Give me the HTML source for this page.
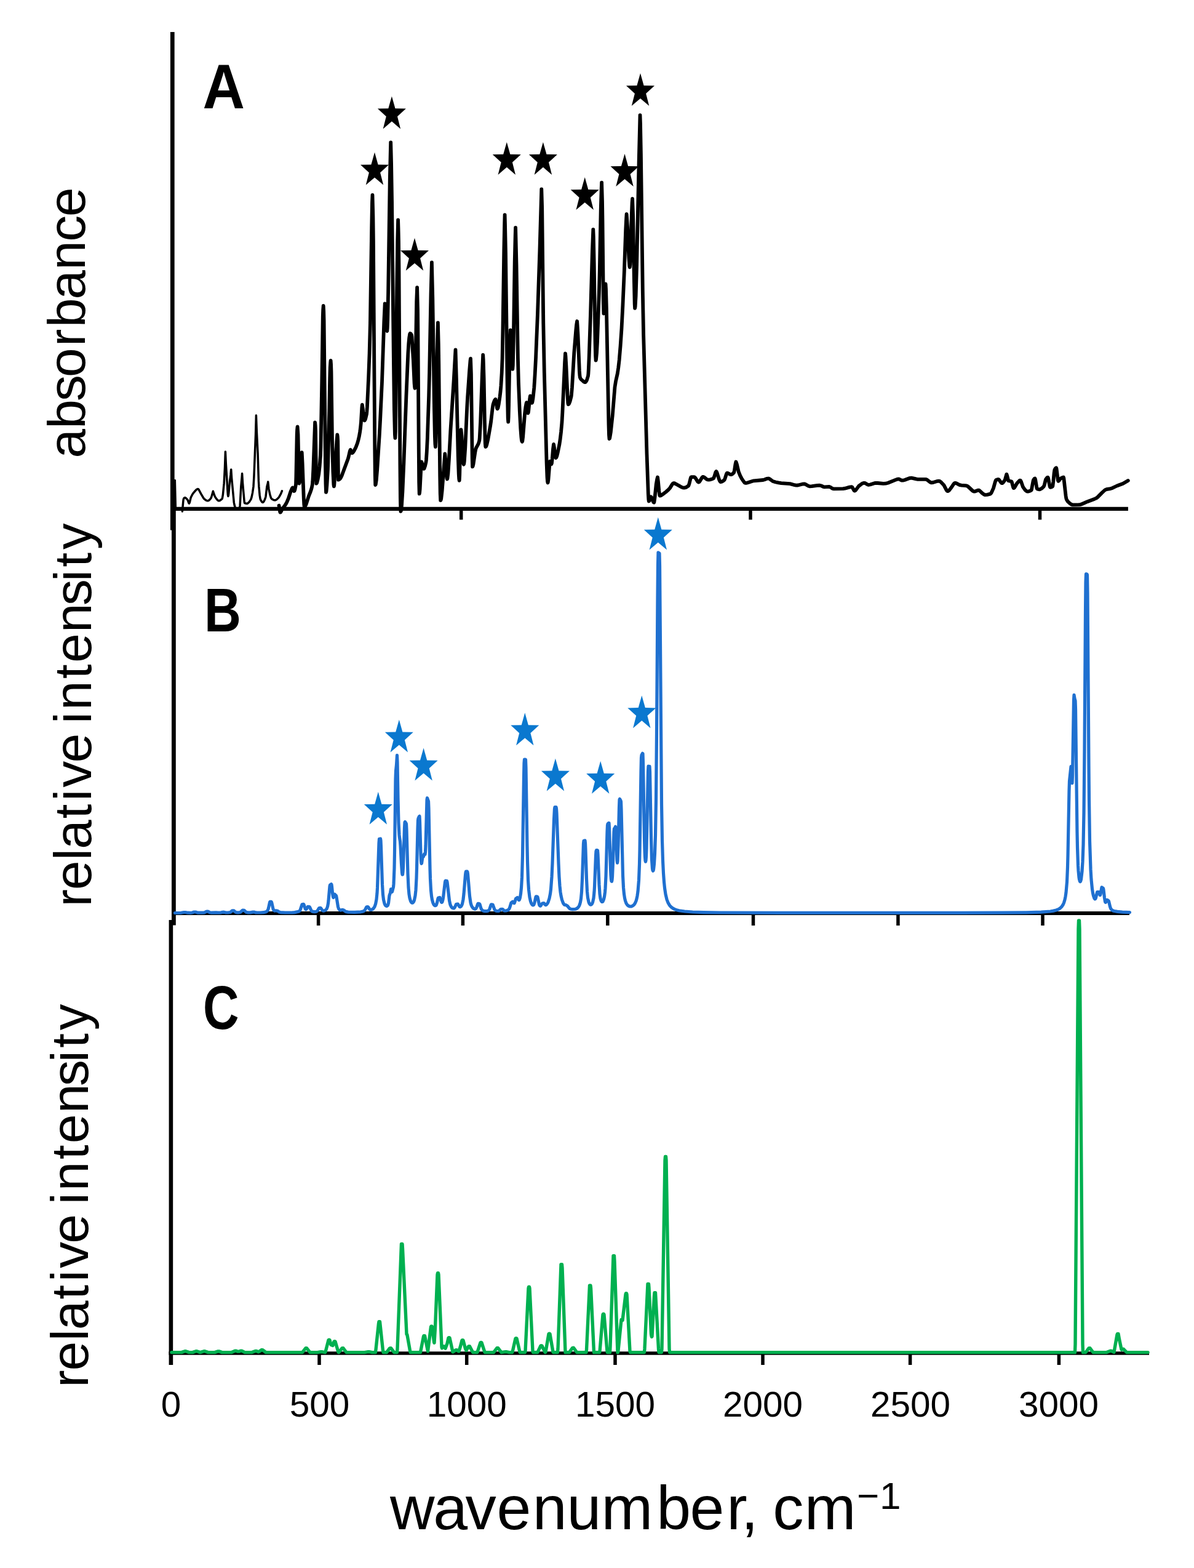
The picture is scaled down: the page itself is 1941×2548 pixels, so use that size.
<!DOCTYPE html>
<html lang="en"><head><meta charset="utf-8"><title>Spectra</title>
<style>
html,body{margin:0;padding:0;background:#fff}
body{width:1941px;height:2548px;overflow:hidden}
svg{display:block;filter:blur(0.4px)}
text{font-family:"Liberation Sans",sans-serif;fill:#000}
.ax{stroke:#000;fill:none;stroke-linecap:butt}
.cv{fill:none;stroke-linejoin:round;stroke-linecap:round}
</style></head><body>
<svg width="1941" height="2548" viewBox="0 0 1941 2548">
<rect width="1941" height="2548" fill="#fff"/>
<g id="panelA">
<line class="ax" x1="280.3" y1="52" x2="280.3" y2="861.4" stroke-width="6.7"/>
<line class="ax" x1="277" y1="826.9" x2="1833.9" y2="826.9" stroke-width="6.4"/>
<line class="ax" x1="749.7" y1="826.9" x2="749.7" y2="844.5" stroke-width="5.5"/>
<line class="ax" x1="1220" y1="826.9" x2="1220" y2="844.5" stroke-width="5.5"/>
<line class="ax" x1="1690.5" y1="826.9" x2="1690.5" y2="844.5" stroke-width="5.5"/>
<path class="cv" d="M283.9 826.4 L284.3 780.4 L285.4 826.4" stroke="#000" stroke-width="3.5"/>
<path class="cv" d="M296.4 830.9 L297.7 816.1 L298.1 812.2 L298.6 810.4 L299.4 809.3 L300.3 808.7 L301.2 808.7 L302.5 809.6 L304.8 812.1 L305.3 813 L306.6 816.8 L307.1 817.7 L307.5 818.1 L307.9 817.5 L308.4 816.1 L310.2 808.6 L312.6 803.7 L314.6 800.8 L317.5 797.5 L319.4 795.6 L320.8 794.7 L321.8 794.6 L322.3 794.7 L323.2 795.7 L326.7 802.4 L330.1 808.2 L331.5 810.3 L333.5 811.9 L335.9 813.4 L337.4 813.8 L338.8 813.6 L340.3 812.5 L342.3 810.4 L343.2 808.8 L344.1 806.3 L346.4 798.2 L347.9 803 L349.4 806.8 L351.3 809.9 L353.8 812.8 L355.2 813.7 L356.2 813.7 L357.2 813.5 L359.1 812.3 L361.1 810.4 L361.5 809.2 L362.4 803.8 L364.2 785.2 L365.5 759.9 L366.4 733.9 L367.3 753.3 L370 798.2 L370.4 804.1 L370.9 806.4 L371.3 805.2 L371.8 801.8 L373.6 781.8 L374.9 772 L375.7 762.9 L376.6 776.6 L380.3 816.5 L381.2 821.1 L382.5 825.4 L382.9 826.2 L383.4 826.4 L387 826.4 L388.3 826 L389.6 824.6 L390.1 821.7 L390.5 815.1 L391.8 790.7 L393.1 776.5 L393.6 769.6 L394.5 784.6 L396.8 811 L397.2 815.5 L397.7 817.5 L399.9 818.2 L401.7 818.3 L403.2 817.6 L405.1 815.7 L407.5 812.1 L408 811.2 L409 808.1 L410.5 801 L412 790.7 L412.9 774.9 L415.6 705.9 L416.4 675 L417.3 700.6 L419.1 737.1 L420.4 781.4 L420.9 790.7 L422.2 805 L423.1 810.7 L423.6 812.1 L425.4 815.2 L426.2 816.1 L427.1 816.4 L427.6 816.3 L428.6 815.3 L430.1 812.5 L431.6 808.6 L432.1 806.3 L433.9 790.7 L435.3 785.5 L435.7 783 L437 795 L438.8 803.4 L440.5 809 L441.4 810.4 L442.9 811.5 L444.8 812.5 L446.8 812.9 L447.8 812.7 L448.7 812.3 L450.7 810.8 L452.6 809 L454.1 806.9 L456.6 802.3 L458.4 797.9" stroke="#000" stroke-width="3.5"/>
<path class="cv" d="M453.5 821.5 L455.2 831.8 L455.6 832.6 L456.1 832.4 L456.9 831.1 L459.2 826.5 L463.3 821.2 L464.8 818.9 L466.7 815.2 L469 809.7 L472.4 799.1 L474.8 793.6 L475.7 792.5 L476.2 793.2 L477.6 797.6 L478.1 798.1 L478.6 797.8 L479.5 795.2 L481 787.1 L481.4 774.6 L482.7 706.5 L483.1 698.2 L483.6 693.4 L484.5 706.3 L485.9 775.2 L486.4 785.6 L486.9 784.2 L487.9 775.1 L490.7 735.1 L491.6 752.4 L493.8 810.5 L494.3 819.9 L494.8 823.7 L495.2 823.6 L496.2 822.5 L497.1 820.7 L498.1 818.1 L501.9 806.2 L504.9 798.7 L505.9 795.7 L506.9 792 L507.9 787.1 L508.3 782.3 L509.3 763 L512.1 686.3 L512.6 691.2 L513 700.2 L513.9 765.8 L514.3 785.6 L514.7 785.3 L515.2 784.5 L516.5 779.6 L518.3 769.9 L519.6 758 L521 739.5 L521.4 726.6 L523.3 620.5 L524.8 514.3 L525.2 503.2 L525.7 497 L526.2 505.6 L526.6 521 L529 753.4 L529.5 786.6 L530 799.9 L530.5 798.5 L531.4 788.6 L532.9 763.3 L533.3 750.8 L535.2 668.1 L536.2 615.3 L536.7 597.3 L537.2 589.9 L537.6 585.8 L538.1 592.3 L538.5 604 L540 715.7 L541.4 766.9 L542.4 787.4 L542.9 790.4 L543.3 788.4 L543.7 783 L546 739.5 L547.4 716.8 L548.3 706.5 L548.8 710 L549.2 716.7 L550 779.7 L550.9 779.5 L552.2 778.5 L553.6 777 L555.6 772.9 L565.7 745.7 L566.6 742.7 L568.4 734.7 L569.3 731.7 L569.8 730.9 L570.2 731.7 L571.7 735.7 L572.1 736.2 L572.6 736.1 L573.6 735.4 L575.6 732.5 L578.6 726.6 L581 720.2 L582.4 715.2 L583.8 709.4 L585.1 701.9 L586 695.5 L586.9 686.3 L588.3 662.6 L588.8 657.7 L589.7 663.3 L591 676.2 L591.9 682.3 L592.4 683.3 L592.8 683.1 L593.3 682.5 L594.2 680.3 L596 672.9 L596.4 668.8 L596.9 661.9 L599.2 611.7 L600.6 574 L601.9 525.2 L604.2 370.4 L605 328.3 L605.5 317 L606.4 352 L606.9 392 L609.3 730.3 L609.8 772.3 L610.2 788 L610.7 787.2 L611.7 780.9 L613.2 763.1 L616.7 708.2 L618.1 682.5 L621 620.5 L624.3 523.3 L625.7 493.4 L626.6 503.2 L628.4 532 L628.8 536.4 L629.3 538 L629.7 533.4 L630.2 520.5 L631.1 475.5 L633.8 289.7 L635.2 231.3 L636.1 266.3 L637.1 329.4 L640 593.5 L640.9 664.5 L641.9 706.1 L642.4 711.8 L642.9 700.9 L643.3 671.4 L645.2 470.9 L646.2 392.5 L647.1 357.5 L647.5 370.3 L648 392.5 L648.5 438.2 L650.4 755.9 L650.9 810.2 L651.4 830.9 L651.9 829.9 L652.9 822.2 L654.4 798.9 L656.4 752.4 L660.4 643.7 L663.3 574.6 L664.3 558.6 L665.2 549 L666.2 542.8 L666.7 541.8 L667.6 542.2 L669 544.3 L669.5 547.2 L671.9 585.6 L673.6 623.1 L674.1 628.8 L674.5 630.9 L675 622.6 L675.4 601.2 L677.2 490.1 L678.1 467.2 L679 502.2 L679.4 542.3 L680.8 735.9 L681.2 783.7 L681.7 802.3 L682.1 800.4 L682.6 795.3 L684.3 761.9 L685.2 750.5 L686.1 753 L687.9 760.3 L688.4 761.4 L688.8 761.8 L689.3 761.6 L689.7 761.1 L691 757.4 L692.4 751.4 L692.9 747.8 L693.8 733.9 L694.8 713.1 L697.1 644.3 L698.1 605.6 L700.5 478.1 L701.9 426.5 L703.3 484.6 L706 665.6 L706.9 709.2 L707.4 721.7 L707.9 726.1 L708.3 718.7 L708.8 699.1 L710.6 575.4 L711.5 535.6 L711.9 524.4 L712.8 559.4 L713.3 591.6 L715.2 772.8 L715.7 802 L716.2 813 L716.7 812.3 L717.2 810.3 L718.6 797.9 L723.3 737.5 L724.2 746.5 L725.6 767.1 L726.5 777 L726.9 778.5 L727.4 777.4 L728.4 769.2 L729.9 746.5 L732.4 699.9 L737.7 617.8 L740.5 568.4 L741.9 615.8 L744.7 741 L745.7 769.8 L746.2 778 L746.7 780.9 L747.2 771.5 L748.6 709.7 L749.5 698.2 L750.5 708.7 L752.9 748.5 L753.3 753 L753.8 754.7 L754.3 753.4 L754.8 749.6 L756.3 727.2 L759.2 662.1 L760.2 644.3 L763.1 603 L764.5 586.2 L765 582.7 L765.9 607.3 L767.7 745.3 L768.1 758.3 L768.6 757.7 L769.5 754 L772.4 734.6 L773.3 730 L774.3 727.3 L777.3 721.8 L778.3 719.3 L779.3 715.7 L779.7 712.1 L781.1 686.2 L783.9 607.4 L785.2 576.7 L785.7 585 L786.6 614.6 L787.9 685.3 L788.8 720.6 L789.3 726.1 L789.8 725.9 L790.3 725.2 L791.2 722.8 L793.2 714.4 L797.1 691.9 L798.1 685.3 L800.5 664.5 L801.4 658.2 L801.9 656.2 L803.7 651.3 L804.6 649.8 L805.5 648.9 L805.9 650.2 L806.4 652.5 L808.1 663.4 L808.6 664.2 L809 663.9 L809.5 662.8 L810.8 656.6 L812.6 644.3 L813.5 636.9 L814.4 627 L815.7 605.8 L816.6 582.4 L817.5 532.6 L819.3 407.7 L820.2 363.1 L820.6 349.1 L821 363.1 L822 411 L824.8 634.8 L825.7 679.2 L826.2 685.6 L826.6 678.1 L827.1 658.5 L828.9 557.2 L829.8 536.3 L830.7 545.2 L831.1 553.4 L832.9 596.7 L833.3 599.9 L833.8 593.7 L834.8 551.7 L836.7 426.3 L837.7 383.2 L838.1 370 L839.5 429.9 L841.9 581.4 L842.9 620.5 L844.8 668 L846.3 696.4 L847.3 709.6 L847.8 714.1 L848.3 716.8 L848.8 717.8 L849.3 716.7 L850.2 709.3 L853.1 672.4 L854.5 661.2 L855.5 655.8 L856 654.1 L856.4 656.9 L857.9 669.8 L858.3 671.4 L858.8 670.3 L859.2 667.6 L861 649.5 L861.9 643.4 L862.4 644.8 L864.3 654 L864.8 654.7 L865.2 654.1 L865.6 652.4 L866.5 646.7 L868.3 630 L869.6 609.3 L871 582.5 L873.9 511.7 L877.4 407.6 L880.3 307.5 L881.2 338 L883.3 525.2 L884.8 604.2 L888.6 752.1 L889.5 775.5 L890 782.1 L890.5 784.5 L890.9 783.1 L891.4 779.4 L893.6 751.9 L894 749.8 L894.5 750.4 L896 753.8 L896.4 754.2 L896.9 753 L897.8 745.3 L899.1 729.1 L900 722 L900.9 726.8 L902.7 741 L903.1 743.2 L903.6 744 L904 743.7 L904.5 743 L905.5 740.4 L906.9 734.5 L909.3 722.7 L910.7 713.5 L912.1 701.6 L913.5 686.1 L914.4 669.8 L918.1 589.1 L919 574.4 L919.5 579.1 L920.4 594.6 L922.4 639.7 L923.3 654.8 L923.8 657.1 L924.3 656.9 L925.2 655.7 L926.7 651.9 L928.6 644.3 L929 641.1 L930 629.4 L933.3 572.9 L936.2 537.5 L937.1 528.3 L938.1 522 L938.5 527.2 L939.5 544.2 L941.9 602.7 L942.4 609.9 L942.9 613.3 L943.8 615.2 L945.1 616.9 L949.3 620.5 L950.2 621 L951.2 621.2 L952.1 620.7 L953.6 618.4 L954.5 615.9 L956 611 L956.4 607.3 L956.8 600.3 L957.7 578.9 L960 510.7 L962.9 408.7 L964.3 372.9 L964.8 384.8 L965.7 427.4 L967.6 557.5 L968.1 577.9 L968.6 585.6 L969 584.2 L970 574 L971 555.8 L973.8 477.6 L974.8 439.6 L976.7 341.4 L977.7 306.9 L978.1 296.7 L979 326.5 L979.5 359.8 L980.9 494 L981.4 509.5 L981.9 507.2 L984.1 466.2 L984.5 461.3 L985 469.9 L985.9 501.3 L989.5 690.6 L990 706.8 L990.5 713 L991 712.5 L991.4 710.9 L992.9 701.7 L995.7 675.4 L999.5 629.1 L1001 619.6 L1003.8 607 L1005.2 597.9 L1006.7 584.8 L1008.6 562.1 L1010.5 534 L1012.4 496.5 L1014.8 441.8 L1017.2 373.7 L1018.2 353.9 L1018.6 347.9 L1020 368.2 L1022.4 419.8 L1023.3 432.4 L1023.8 434.2 L1024.3 430.2 L1024.8 419.5 L1026.7 351.4 L1027.6 329.2 L1028.1 322.9 L1029 347.8 L1029.4 367.8 L1030.8 452.2 L1031.7 494.3 L1032.1 500.9 L1032.6 498.5 L1033.6 481 L1035.1 430.2 L1038.6 264.3 L1040.5 187.2 L1041 201 L1041.9 250.1 L1044.8 473.1 L1046.1 543.6 L1051.5 737.7 L1053.8 802.5 L1054.3 811.2 L1054.8 814.5 L1055.2 814.2 L1055.7 813.4 L1057.4 808.7 L1058.3 807.4 L1059.3 808.6 L1062.1 815.7 L1062.6 816.4 L1063.1 816.6 L1063.5 815.6 L1064.4 809.2 L1066.7 787.1 L1068.1 779 L1069 775.5 L1069.9 782.1 L1071.3 797.3 L1072.2 804.5 L1072.6 805.6 L1073.6 805.4 L1075 804.9 L1076.9 803.6 L1082.7 799.2 L1086.6 795.8 L1089 793.1 L1092.9 786.9 L1093.8 785.8 L1094.8 785.2 L1095.7 785.1 L1097.1 785.6 L1102 788.2 L1106.9 791.1 L1109.9 792.4 L1111.4 792.6 L1113.3 792.5 L1114.8 792.1 L1116.7 791.1 L1119 789.5 L1119.5 788.8 L1120.5 785.9 L1122.4 778.1 L1123.3 775.6 L1123.8 775.2 L1128.6 775.2 L1129.5 775.6 L1131 777.4 L1133.8 782.1 L1134.8 783.1 L1135.7 783.5 L1136.7 783.1 L1137.6 782 L1141.4 775.7 L1142.4 774.9 L1142.9 774.8 L1143.8 775 L1144.8 775.5 L1148.7 778.7 L1150.2 779.5 L1151.7 779.7 L1154.6 779.3 L1158.1 778.2 L1159.5 777.6 L1160 777.2 L1161 775 L1163.3 767.6 L1164.3 766 L1164.8 766.6 L1165.7 768.5 L1169 779.1 L1170 781.5 L1171 782.9 L1171.4 783.1 L1173.4 782.7 L1175.9 781.2 L1177.4 780 L1177.9 779.3 L1178.8 776.9 L1180.7 770.8 L1181.7 768.8 L1182.1 768.6 L1183.1 768.8 L1186.6 770.8 L1188.1 771.2 L1189 771.1 L1190.5 770.3 L1192.9 768.1 L1193.3 767.1 L1193.8 765.1 L1195.5 754.2 L1196.4 750.5 L1196.9 751.6 L1197.9 754.7 L1200.7 766.7 L1203.2 772.9 L1205.7 777.7 L1208.6 782 L1210.5 784.3 L1211.4 784.8 L1211.9 784.9 L1213.9 784.8 L1215.8 784.3 L1222.7 782 L1225.2 781.3 L1240.5 780 L1242.4 779.5 L1246.8 777.8 L1248.8 777.5 L1249.8 777.7 L1251.3 778.4 L1256.2 782 L1261.1 783.5 L1265.5 784.4 L1270 785.1 L1284.3 786.1 L1291.8 788.2 L1294.2 788.6 L1297.2 788.5 L1304.2 786.7 L1307.1 786.4 L1308.1 786.5 L1309.5 787 L1313.8 789.5 L1316.2 790.4 L1319.7 790.2 L1328.6 788.9 L1332.6 788.7 L1334.6 789.2 L1338.5 791 L1340 791.3 L1348.1 790.9 L1349.5 791.4 L1353.3 793.9 L1354.8 794.3 L1370.5 794.2 L1373.5 793.7 L1381 791.6 L1384.5 791.2 L1385 791.4 L1385.5 791.8 L1388.3 796.9 L1388.8 797.4 L1389.3 797.6 L1390.2 797.2 L1391.2 796.4 L1396 789.9 L1400.8 786.2 L1402.3 785.4 L1403.8 784.9 L1405.2 784.8 L1406.2 785.1 L1410 787.3 L1411.9 787.9 L1414.4 787.5 L1420.8 785.4 L1423.3 784.9 L1426.8 785 L1436.1 785.8 L1439.6 785.7 L1443.5 784.7 L1456.8 779.4 L1459.2 778.6 L1461.2 778.5 L1462.2 778.9 L1465.7 780.6 L1467.7 780.7 L1470.6 780 L1478 777.2 L1480 776.8 L1481.4 776.7 L1483.9 777.1 L1489.4 778.4 L1491.9 778.8 L1505.2 778.8 L1507.1 779.7 L1511.4 783.1 L1512.9 784 L1513.8 784.3 L1516.8 784 L1524.2 781.8 L1526.2 781.7 L1527.1 781.8 L1528.1 782.2 L1529.5 783.3 L1533.8 787.7 L1534.8 789.2 L1538.7 796.6 L1539.7 797.7 L1540.7 798.1 L1541.7 797.8 L1543.2 796.5 L1547.2 791.3 L1550.1 786.8 L1551.1 785.6 L1552.1 784.9 L1553.6 784.9 L1555.1 785.5 L1559 787.6 L1560.5 788.2 L1562.9 788.6 L1569.7 789.2 L1572.2 789.7 L1574.1 791 L1581.1 797.5 L1582.1 798.2 L1583.1 798.6 L1585 798.5 L1589.8 796.7 L1591.2 796.6 L1592.7 797.5 L1596.7 801.4 L1599.5 803.4 L1600.5 803.9 L1601.4 804.1 L1604.9 803.8 L1608.8 802.9 L1610.2 802.4 L1611.2 801.3 L1612.6 798.6 L1615 793.1 L1617.9 782.8 L1618.8 780.5 L1619.3 780 L1621.5 779.1 L1622.9 779 L1623.4 779.1 L1624.8 780.6 L1627.3 784.2 L1628.3 785.1 L1629.3 785.1 L1630.7 784.1 L1633.6 780 L1634 778.9 L1636 771.7 L1636.4 770.7 L1637.3 773.4 L1639.1 780.5 L1639.5 781.2 L1643.8 782.2 L1644.3 782.4 L1644.7 783 L1647 791.5 L1647.4 792.6 L1647.9 793.1 L1648.8 792.6 L1649.8 791.4 L1652.8 786.1 L1653.8 784.8 L1656.7 781.6 L1657.6 780.9 L1658.6 780.6 L1659 780.9 L1660 782.6 L1662.9 791.1 L1665.2 794.5 L1667.1 796.8 L1668.6 798 L1670 798.7 L1672 798.6 L1674.4 797.8 L1676.4 796.7 L1676.9 795.8 L1679.6 781.3 L1680 780 L1681 778.5 L1681.9 777.6 L1682.4 777.5 L1682.8 778.2 L1683.3 780.1 L1685.5 793.4 L1686 794.3 L1687.7 795 L1689.5 795.3 L1691 795.1 L1693.3 793.8 L1696.7 790.7 L1697.6 788.6 L1699.8 779.8 L1700.2 778.8 L1701.6 776.9 L1702.4 776 L1703.3 775.7 L1703.8 776.3 L1704.2 777.7 L1706 787.6 L1706.9 791.2 L1707.4 791.8 L1709.6 791.3 L1711 790.7 L1711.4 789.5 L1712.3 782.5 L1713.6 768.6 L1714.1 765.2 L1714.5 763.3 L1716 760.8 L1716.9 760.2 L1717.4 761.3 L1717.8 763.8 L1719.6 778.5 L1720 780.9 L1720.5 781.8 L1721.4 781.2 L1723.6 778 L1726 776.5 L1727.4 775.8 L1728.8 775.5 L1729.3 776.9 L1732.6 805.9 L1733.1 809 L1733.6 811 L1734 812 L1735.8 814.9 L1739 817.8 L1741.9 819.8 L1743.3 820.3 L1744.3 820.4 L1753.8 820.2 L1756.8 819.8 L1760.2 818.5 L1767.6 815.2 L1778.9 811 L1782.4 809.3 L1784.3 807.9 L1791 801.1 L1795.4 797 L1796.9 795.9 L1798.8 795.2 L1805.2 794.1 L1808.1 793.2 L1815.7 789.5 L1825.7 785.7 L1833.8 781" stroke="#000" stroke-width="5.8"/>
<polygon points="609,247.6 614.6,267.5 632,267.8 618.1,280.5 623.2,300.6 609,288.5 594.8,300.6 599.9,280.5 586,267.8 603.4,267.5" fill="#000"/>
<polygon points="636.9,156.4 642.5,176.3 659.9,176.6 646,189.3 651.1,209.4 636.9,197.3 622.7,209.4 627.8,189.3 613.9,176.6 631.3,176.3" fill="#000"/>
<polygon points="674,386.8 679.6,406.7 697,407 683.1,419.7 688.2,439.8 674,427.7 659.8,439.8 664.9,419.7 651,407 668.4,406.7" fill="#000"/>
<polygon points="823.8,230.9 829.4,250.8 846.8,251.1 832.9,263.8 838,283.9 823.8,271.8 809.6,283.9 814.7,263.8 800.8,251.1 818.2,250.8" fill="#000"/>
<polygon points="882.9,230.9 888.5,250.8 905.9,251.1 892,263.8 897.1,283.9 882.9,271.8 868.7,283.9 873.8,263.8 859.9,251.1 877.3,250.8" fill="#000"/>
<polygon points="950.7,288.1 956.3,308 973.7,308.3 959.8,321 964.9,341.1 950.7,329 936.5,341.1 941.6,321 927.7,308.3 945.1,308" fill="#000"/>
<polygon points="1015.5,250 1021.1,269.9 1038.5,270.2 1024.6,282.9 1029.7,303 1015.5,290.9 1001.3,303 1006.4,282.9 992.5,270.2 1009.9,269.9" fill="#000"/>
<polygon points="1041,119 1046.6,138.9 1064,139.2 1050.1,151.9 1055.2,172 1041,159.9 1026.8,172 1031.9,151.9 1018,139.2 1035.4,138.9" fill="#000"/>
</g>
<g id="panelB">
<line class="ax" x1="282.4" y1="829" x2="282.4" y2="1503.6" stroke-width="6.8"/>
<line class="ax" x1="279" y1="1484.0" x2="1836" y2="1484.0" stroke-width="6.0"/>
<line class="ax" x1="517.6" y1="1484.0" x2="517.6" y2="1504" stroke-width="5.5"/>
<line class="ax" x1="752.4" y1="1484.0" x2="752.4" y2="1504" stroke-width="5.5"/>
<line class="ax" x1="987.8" y1="1484.0" x2="987.8" y2="1504" stroke-width="5.5"/>
<line class="ax" x1="1224.5" y1="1484.0" x2="1224.5" y2="1504" stroke-width="5.5"/>
<line class="ax" x1="1459.9" y1="1484.0" x2="1459.9" y2="1504" stroke-width="5.5"/>
<line class="ax" x1="1695" y1="1484.0" x2="1695" y2="1504" stroke-width="5.5"/>
<path class="cv" d="M284.5 1483.5 L294.5 1483.3 L299 1482.5 L301.5 1482.5 L305 1483.2 L310 1483.3 L312.5 1483 L315.5 1482 L318 1482 L320.5 1482.9 L322 1483.2 L329 1483.2 L332.5 1482.8 L335 1481.4 L336 1481.2 L338 1481.2 L341 1482.7 L343.5 1483.1 L351 1482.8 L354.5 1483.2 L357 1483.2 L359 1483 L361.5 1482.3 L364 1482.2 L367.5 1483 L370.5 1483 L374 1482.5 L375 1481.9 L377.5 1479.8 L379.5 1479.8 L380.5 1480.1 L382.5 1481.9 L383.5 1482.4 L385 1482.8 L387.5 1482.8 L389.5 1482.6 L391 1482.2 L394 1479.4 L394.5 1479.2 L397 1479.4 L400 1482.2 L402.5 1482.8 L407 1482.9 L411 1482.1 L413 1482.1 L416 1482.9 L418 1483 L423.5 1483 L428.5 1482.7 L432.5 1481.7 L434 1480.8 L435 1479.6 L436 1477.3 L436.5 1475.5 L438.5 1466.2 L439 1465.4 L441 1465.4 L441.5 1466.1 L442 1468 L444 1477 L445 1479.2 L445.5 1479.7 L446.5 1480.1 L448.5 1479.8 L451.5 1480.4 L454 1482.1 L456 1482.6 L463.5 1483 L475.5 1482.9 L479 1482.6 L485.5 1481.2 L487 1480.3 L488 1478.9 L491 1469.7 L493 1469.3 L493.5 1469.3 L494 1470.1 L496 1476.3 L497 1477.8 L497.5 1477.8 L498 1477.5 L500.5 1473.3 L503 1473.6 L503.5 1474.2 L506 1479.7 L507 1480.8 L508.5 1481.4 L511.5 1481.7 L514.5 1481.2 L516 1480 L518.5 1475.9 L519 1475.6 L521 1475.4 L521.5 1475.6 L523.5 1478.7 L524.5 1479.7 L525.5 1480.1 L527 1480 L529 1479.1 L530.5 1477.7 L531.5 1476 L532.5 1473.2 L533.5 1467.8 L534 1463.4 L536 1440.6 L536.5 1438.1 L538.5 1436.8 L539 1437.5 L539.5 1440.9 L540.5 1451 L541.5 1457.7 L542 1458.4 L542.5 1457.7 L543.5 1454.1 L544 1453.1 L546.5 1455.6 L547 1457.6 L549.5 1473.5 L550.5 1476.5 L551.5 1478 L552.5 1478.8 L554 1479.1 L556 1478.4 L558.5 1478.8 L562 1481.4 L566 1482.1 L576.5 1482.3 L586.5 1481.8 L590 1481.1 L592 1480.2 L593.5 1478.3 L595.5 1474.3 L596 1473.9 L598 1473.6 L598.5 1473.8 L600.5 1477.1 L601.5 1478.1 L603 1478.4 L604.5 1478.1 L606 1477.2 L607 1476.3 L609 1473.4 L610.5 1469.2 L612 1461.5 L613 1451.3 L613.5 1442.7 L616 1369.9 L616.5 1363.4 L618.5 1363 L619 1365.9 L619.5 1376.9 L621.5 1437.4 L622.5 1453.8 L623.5 1461.9 L625 1468.1 L626 1470.3 L627 1471.6 L628.5 1472.4 L629.5 1472.2 L630.5 1471 L631.5 1467.7 L633 1455.1 L634.5 1450.8 L635.5 1444.9 L636 1445.4 L637 1449.4 L637.5 1449 L639.5 1441.4 L640 1436.2 L641 1411 L641.5 1384.7 L643 1266.7 L643.5 1253.1 L644.5 1243.1 L645.5 1227.3 L646 1238.8 L647 1297.3 L648 1337.1 L649 1356.2 L649.5 1361.2 L650.5 1367.7 L651 1374.2 L652.5 1403.4 L653.5 1417.9 L654 1421.2 L654.5 1421.1 L655 1417 L655.5 1408.4 L657.5 1346.2 L658 1336.3 L658.5 1335.4 L660 1337.6 L660.5 1339 L661 1348.7 L663 1420.1 L664 1442.1 L665 1453.2 L666 1459.3 L667.5 1464.3 L668.5 1466.1 L669.5 1467 L670.5 1467.2 L671.5 1466.6 L672.5 1465.2 L673.5 1462.7 L675 1455.5 L676 1446.2 L677 1426.9 L677.5 1410.8 L679 1347.1 L679.5 1332.9 L680 1329.8 L681.5 1326.7 L682 1326.3 L682.5 1335.9 L684 1387.8 L684.5 1398.5 L685 1403.3 L685.5 1403 L687 1392.4 L687.5 1392.1 L688 1392.3 L688.5 1391.8 L689.5 1388.1 L690 1387.5 L690.5 1388.5 L691 1388.5 L691.5 1384.5 L692 1374.5 L694 1299.7 L694.5 1296.7 L696.5 1302.2 L697 1314.1 L699 1411.7 L699.5 1427.9 L700.5 1446.6 L701.5 1456.3 L702.5 1462.3 L704 1467.5 L705 1469.6 L706 1470.9 L707 1471.6 L708 1471.7 L709 1471 L709.5 1470.1 L710.5 1466.8 L712 1460.2 L712.5 1459.1 L715 1458.4 L717.5 1465.9 L718 1466.4 L718.5 1466.3 L719 1465.4 L720 1461.7 L720.5 1458.6 L723.5 1433.4 L724 1431.4 L724.5 1431.2 L726.5 1431.6 L727 1433.4 L730.5 1463.4 L732 1470.2 L733.5 1473.4 L734.5 1474.6 L735.5 1475.4 L737 1475.9 L738 1475.8 L739 1474.9 L739.5 1474 L741.5 1469.6 L742 1469.3 L744 1469 L744.5 1469.2 L747 1473.5 L748 1473.8 L749.5 1472.8 L750.5 1471.2 L751.5 1468.7 L753 1461.4 L754 1452.6 L756.5 1422.1 L757 1418 L757.5 1416.2 L759.5 1416.2 L760 1417.1 L760.5 1420.4 L763.5 1456.1 L765 1466.7 L766 1470.4 L767 1472.8 L768.5 1475.1 L770.5 1476.7 L771.5 1477.1 L772.5 1477.1 L773.5 1476.6 L774 1476 L775 1473.9 L776.5 1469.3 L777 1468.4 L777.5 1468.3 L779.5 1468.7 L780 1469.6 L782 1476.2 L783 1478.2 L784.5 1479.6 L786.5 1480.4 L788.5 1480.7 L791 1480.7 L793 1480.2 L794.5 1479.3 L795.5 1478 L796 1476.9 L798 1470.8 L798.5 1469.9 L799 1469.9 L801 1470 L804 1478.2 L805 1479.4 L806 1480 L808 1480.5 L810.5 1480.3 L811.5 1479.8 L814 1477.5 L816.5 1477.3 L817 1477.5 L819 1479.3 L820 1479.8 L821.5 1480 L823 1479.9 L825.5 1479 L826.5 1478.3 L827.5 1477.2 L828.5 1475.2 L831 1467 L833.5 1465.2 L834 1465.5 L835.5 1467.7 L836 1467.7 L836.5 1466.8 L838.5 1460.4 L841 1458.5 L841.5 1458.8 L843 1462 L843.5 1462.6 L844 1462.5 L844.5 1461.8 L845.5 1458.4 L846.5 1452.4 L847.5 1442.6 L848.5 1425.4 L849.5 1390.7 L851.5 1263.4 L852 1240.3 L852.5 1234.1 L854 1234.1 L854.5 1234.5 L855 1247.9 L857 1375.3 L857.5 1399.8 L858.5 1430.1 L859.5 1445.5 L861 1458 L862.5 1464.7 L863.5 1467.5 L864.5 1469.3 L865.5 1470.4 L866.5 1470.9 L867.5 1470.5 L868 1469.8 L869 1466.8 L871 1457.5 L871.5 1456.8 L873.5 1457.1 L874 1457.9 L876.5 1469.7 L877 1471 L878 1472.2 L878.5 1472.2 L879 1471.8 L881.5 1468.1 L883.5 1467.7 L884 1467.6 L884.5 1468 L886.5 1470.4 L887.5 1470.6 L888.5 1470 L890 1468 L891 1466.1 L893 1460 L894.5 1452.6 L895.5 1444.9 L897 1424.7 L898 1403.1 L900.5 1332.6 L901.5 1314.2 L902 1311.6 L904 1311.6 L904.5 1314.2 L905 1321.6 L908 1403.2 L909 1424.9 L910 1439.7 L911 1449.3 L912 1455.7 L913.5 1462.2 L915.5 1467.5 L916.5 1469.1 L917.5 1470.2 L918.5 1470.5 L920 1470.6 L922.5 1472.2 L925 1475.4 L926 1476.3 L928 1477.3 L930.5 1477.7 L934.5 1477.5 L936.5 1476.9 L938 1476.1 L939.5 1474.9 L940.5 1473.7 L941.5 1472 L942.5 1469.6 L943.5 1465.9 L944.5 1460.2 L945.5 1449.6 L946.5 1428.9 L948.5 1370.7 L949 1366.2 L951 1365.9 L951.5 1370.4 L952 1382.1 L953.5 1428 L954.5 1448.4 L955.5 1458.7 L957 1465.8 L958 1468.2 L959 1469.6 L960 1470.2 L961 1470 L961.5 1469.7 L962.5 1468.5 L963.5 1466.2 L965 1459.4 L966 1449.3 L966.5 1440.9 L968.5 1391 L969 1383.2 L969.5 1381.7 L971 1381.5 L971.5 1382 L972 1388.5 L974 1437.7 L975 1452.7 L976 1459.8 L977 1463.3 L977.5 1464.3 L978.5 1465.4 L979.5 1465.3 L980 1464.8 L981.5 1461.5 L982.5 1457.2 L983.5 1449.8 L984 1443.9 L985 1423.4 L987 1352.4 L987.5 1341.1 L988 1338.8 L989.5 1337.3 L990 1337.5 L990.5 1346 L992.5 1411.3 L993 1422 L993.5 1428.7 L994 1431.9 L994.5 1432.3 L995 1429.9 L995.5 1424.2 L996.5 1400.4 L998 1352.1 L998.5 1346.5 L999.5 1345.5 L1000.5 1343.3 L1001 1347 L1003 1397.9 L1003.5 1402.2 L1004 1399.6 L1005 1374.3 L1006.5 1312 L1007 1299.5 L1007.5 1298.3 L1009 1301 L1009.5 1302.7 L1010 1315.1 L1012.5 1422.3 L1013.5 1442.5 L1014.5 1452.9 L1015.5 1459.4 L1016.5 1463.7 L1018 1467.8 L1019.5 1470.2 L1021.5 1472 L1024 1473 L1026.5 1472.8 L1029 1471.7 L1031 1469.8 L1032.5 1467.5 L1034 1464 L1035 1460.5 L1036 1455.7 L1037 1448.7 L1038.5 1430.2 L1039.5 1404.6 L1040 1383.1 L1042 1252.7 L1042.5 1231.4 L1043 1227 L1044.5 1224.3 L1045 1224.7 L1045.5 1240.7 L1047.5 1361.1 L1048 1380.4 L1048.5 1392.4 L1049 1398.5 L1049.5 1400.2 L1050 1398 L1050.5 1391.2 L1051 1378.5 L1053.5 1253.3 L1054 1245.1 L1055 1245.7 L1056 1245.5 L1056.5 1253.9 L1058.5 1361.9 L1059.5 1396.9 L1060.5 1411.3 L1061 1414.2 L1061.5 1415.2 L1062 1414.7 L1062.5 1412.6 L1063.5 1403.6 L1064.5 1386.8 L1065.5 1357.1 L1066.5 1299.4 L1067.5 1191.6 L1069 971.3 L1069.5 917.7 L1070 897.9 L1072 899.2 L1072.5 919.7 L1075.5 1306.2 L1076.5 1366.2 L1077.5 1398.6 L1078.5 1419.1 L1079.5 1433.1 L1080.5 1443 L1082 1453.1 L1084 1461.6 L1086 1466.9 L1088.5 1471.1 L1090 1472.9 L1092 1474.7 L1094.5 1476.4 L1097 1477.6 L1100 1478.7 L1104 1479.7 L1113 1481 L1126 1482 L1144 1482.6 L1170.5 1483 L1268 1483.4 L1562.5 1483.4 L1629.5 1483.2 L1668.5 1482.9 L1692.5 1482.2 L1707.5 1481 L1712.5 1480.1 L1717 1479 L1720.5 1477.6 L1723.5 1475.7 L1726 1473.3 L1728 1470.3 L1729.5 1467 L1731 1462 L1732 1457.2 L1733 1450.4 L1734.5 1433 L1735.5 1409.3 L1736 1390.3 L1738 1284.9 L1738.5 1269.3 L1741 1245.7 L1741.5 1251.8 L1742.5 1272.3 L1743 1272.5 L1743.5 1260.3 L1745.5 1137.7 L1746 1129.3 L1747 1135.1 L1748 1138.6 L1748.5 1152.5 L1751 1352.4 L1751.5 1377.2 L1752.5 1406.2 L1753 1414.7 L1754 1425.5 L1754.5 1428.8 L1755.5 1432.3 L1756 1432.7 L1756.5 1432.3 L1757.5 1429 L1759 1416.3 L1760 1400.2 L1761 1372.9 L1762 1320.1 L1763 1216.4 L1764.5 996.6 L1765 946.1 L1765.5 932.5 L1767 933.2 L1767.5 934.3 L1768 964.1 L1770 1245.6 L1770.5 1299.6 L1771.5 1366.7 L1773 1412.4 L1774 1429.1 L1775.5 1444.5 L1776.5 1451.1 L1777.5 1455.6 L1779 1459.8 L1780 1460.9 L1780.5 1460.8 L1781 1460.1 L1781.5 1458.6 L1783.5 1450 L1784 1449.4 L1785 1449.7 L1786 1449.4 L1786.5 1449.8 L1788 1454.5 L1788.5 1454.6 L1789 1453.3 L1791 1441.9 L1791.5 1442 L1793.5 1443.5 L1794 1446 L1795.5 1459.1 L1796.5 1465.1 L1797 1466.3 L1797.5 1466.4 L1799.5 1462.4 L1800 1462.4 L1802 1463.9 L1802.5 1464.7 L1804.5 1473.1 L1805.5 1476.1 L1806.5 1477.7 L1808 1479.1 L1809.5 1479.9 L1811.5 1480.5 L1816.5 1481.4 L1824.5 1482.1 L1836.5 1482.6" stroke="#1f70d0" stroke-width="5.2"/>
<polygon points="614.8,1286.8 620.4,1306.7 637.8,1307 623.9,1319.7 629,1339.8 614.8,1327.7 600.6,1339.8 605.7,1319.7 591.8,1307 609.2,1306.7" fill="#0a78cf"/>
<polygon points="648.8,1169.5 654.4,1189.4 671.8,1189.7 657.9,1202.4 663,1222.5 648.8,1210.4 634.6,1222.5 639.7,1202.4 625.8,1189.7 643.2,1189.4" fill="#0a78cf"/>
<polygon points="688.6,1215.5 694.2,1235.4 711.6,1235.7 697.7,1248.4 702.8,1268.5 688.6,1256.4 674.4,1268.5 679.5,1248.4 665.6,1235.7 683,1235.4" fill="#0a78cf"/>
<polygon points="853.3,1158.3 858.9,1178.2 876.3,1178.5 862.4,1191.2 867.5,1211.3 853.3,1199.2 839.1,1211.3 844.2,1191.2 830.3,1178.5 847.7,1178.2" fill="#0a78cf"/>
<polygon points="902.9,1232.6 908.5,1252.5 925.9,1252.8 912,1265.5 917.1,1285.6 902.9,1273.5 888.7,1285.6 893.8,1265.5 879.9,1252.8 897.3,1252.5" fill="#0a78cf"/>
<polygon points="976.2,1236.8 981.8,1256.7 999.2,1257 985.3,1269.7 990.4,1289.8 976.2,1277.7 962,1289.8 967.1,1269.7 953.2,1257 970.6,1256.7" fill="#0a78cf"/>
<polygon points="1043.3,1130.2 1048.9,1150.1 1066.3,1150.4 1052.4,1163.1 1057.5,1183.2 1043.3,1171.1 1029.1,1183.2 1034.2,1163.1 1020.3,1150.4 1037.7,1150.1" fill="#0a78cf"/>
<polygon points="1069.8,840.5 1075.4,860.4 1092.8,860.7 1078.9,873.4 1084,893.5 1069.8,881.4 1055.6,893.5 1060.7,873.4 1046.8,860.7 1064.2,860.4" fill="#0a78cf"/>
</g>
<g id="panelC">
<line class="ax" x1="277.9" y1="1495" x2="277.9" y2="2218" stroke-width="6.6"/>
<line class="ax" x1="274.5" y1="2199.0" x2="1868" y2="2199.0" stroke-width="5.4"/>
<line class="ax" x1="519" y1="2199.0" x2="519" y2="2218" stroke-width="5.5"/>
<line class="ax" x1="758.7" y1="2199.0" x2="758.7" y2="2218" stroke-width="5.5"/>
<line class="ax" x1="1000" y1="2199.0" x2="1000" y2="2218" stroke-width="5.5"/>
<line class="ax" x1="1240" y1="2199.0" x2="1240" y2="2218" stroke-width="5.5"/>
<line class="ax" x1="1479.6" y1="2199.0" x2="1479.6" y2="2218" stroke-width="5.5"/>
<line class="ax" x1="1721.4" y1="2199.0" x2="1721.4" y2="2218" stroke-width="5.5"/>
<path class="cv" d="M279 2197.6 L295 2197.6 L300.5 2195.7 L302 2195.7 L307.5 2197.6 L313 2197.6 L318.5 2195.7 L320 2195.7 L325.5 2197.6 L331.5 2195.7 L333 2195.7 L338.5 2197.6 L349 2197.6 L354.5 2195.9 L356 2195.9 L361 2197.6 L376.5 2197.6 L382.5 2195.1 L384 2195.1 L386 2196.1 L389 2196.1 L391 2195.1 L393 2195.1 L398 2197.6 L398.5 2197.6 L409.5 2197.6 L415 2195.5 L417 2195.5 L420 2196.7 L422 2195.9 L425 2193.6 L425.5 2193.5 L427 2193.6 L432 2197.5 L432.5 2197.6 L491.5 2197.6 L497 2190.7 L498.5 2190.7 L504 2197.6 L516 2197.6 L521.5 2196.7 L523 2196.7 L528.5 2197.6 L529 2197.2 L534 2177.7 L534.5 2177.3 L535.5 2177.3 L536 2177.7 L538 2185.2 L541 2186.5 L543 2180 L543.5 2179.7 L544.5 2179.7 L545 2180 L550 2197.3 L550.5 2197.6 L551 2197.5 L556 2190.8 L556.5 2190.7 L558 2190.8 L563 2197.5 L563.5 2197.6 L592.5 2197.6 L598.5 2196.7 L600 2196.7 L605 2197.6 L610.5 2197.6 L615.5 2150.6 L616 2147.7 L617.5 2147.7 L622.5 2194.7 L623 2197.6 L628.5 2197.6 L633.5 2191 L634 2190.7 L635.5 2190.7 L640.5 2197.3 L641 2197.6 L645.5 2197.6 L646 2192.3 L652.5 2021.4 L654 2021.4 L654.5 2029.4 L661 2167.8 L661.5 2167.8 L662 2169.5 L667 2197.6 L683.5 2197.6 L688.5 2171.7 L689 2170.7 L690.5 2170.7 L695.5 2195.8 L700.5 2156.1 L701 2155.3 L702 2155.3 L702.5 2156.1 L705.5 2180.5 L706 2182.1 L707.5 2157.1 L711 2071.2 L711.5 2068.7 L712.5 2068.7 L713 2071.2 L718 2189.2 L718.5 2190.7 L720 2187.9 L721.5 2187.7 L722 2187.9 L723.5 2190.7 L724 2191.2 L727 2183.2 L729 2174.2 L729.5 2173.7 L730.5 2173.7 L731 2174.2 L736 2196.8 L736.5 2196.9 L741 2193.7 L742.5 2193.7 L745.5 2195.9 L746 2195.9 L748 2189.6 L751 2178.1 L751.5 2177.7 L752.5 2177.7 L753 2178.1 L756.5 2191.5 L758 2194.4 L758.5 2193.8 L761.5 2188.1 L762 2187.7 L763.5 2187.7 L768.5 2197.2 L769 2197.6 L775.5 2197.6 L776 2197.3 L781 2181.8 L781.5 2181.5 L782.5 2181.5 L783 2181.8 L788 2197.3 L788.5 2197.6 L802.5 2197.6 L808 2190.4 L809.5 2190.4 L815 2197.6 L821.5 2196.7 L823 2196.7 L828 2197.6 L832.5 2197.6 L833 2197.2 L838 2175.1 L838.5 2174.7 L839.5 2174.7 L840 2175.1 L845 2197.2 L845.5 2197.6 L853.5 2197.6 L854 2195.6 L859 2093.3 L859.5 2091.3 L860.5 2091.3 L861 2093.3 L866 2195.6 L866.5 2197.6 L873.5 2197.6 L874 2197.4 L879 2186.9 L879.5 2186.7 L881 2186.9 L886 2197.4 L886.5 2197.6 L887 2197 L892 2167.8 L892.5 2167.2 L893.5 2167.2 L894 2167.8 L899 2197 L899.5 2197.6 L906.5 2197.6 L907 2192.1 L912 2054.7 L913.5 2054.7 L914 2060.2 L919 2197.6 L925.5 2197.6 L930.5 2190.5 L931 2190.2 L932.5 2190.2 L937.5 2197.3 L938 2197.6 L953 2197.6 L953.5 2193.4 L958.5 2089 L960 2089 L960.5 2093.2 L965.5 2197.6 L974.5 2197.6 L975 2196.4 L980 2136.4 L980.5 2135.2 L981.5 2135.2 L982 2136.4 L987 2196.4 L987.5 2197.6 L991.5 2197.6 L992 2188.5 L997 2040.7 L998.5 2040.7 L999 2049.8 L1004 2197.6 L1004.5 2197.6 L1005 2194.5 L1010 2144.4 L1011.5 2144.4 L1012 2145.6 L1017 2103.5 L1017.5 2101.7 L1018.5 2101.7 L1019 2103.5 L1024 2195.8 L1024.5 2197.6 L1047.5 2197.6 L1048 2191.2 L1053 2086.4 L1054.5 2086.4 L1055 2092.8 L1058.5 2167.7 L1059 2170.9 L1059.5 2172.3 L1060 2171.5 L1063.5 2106.3 L1064 2100.7 L1065.5 2100.7 L1070.5 2192 L1071 2197.6 L1075.5 2197.6 L1076 2191.5 L1081 1885.5 L1081.5 1879.4 L1082.5 1879.4 L1083 1885.5 L1088 2191.5 L1088.5 2197.6 L1747.5 2197.6 L1748 2184.1 L1753 1509.5 L1753.5 1496 L1754.5 1496 L1755 1509.5 L1760 2184.1 L1760.5 2197.6 L1765 2197.5 L1770 2190.8 L1770.5 2190.7 L1772 2190.8 L1777 2197.5 L1777.5 2197.6 L1799 2197.6 L1805 2195.2 L1806.5 2195.2 L1811 2197.3 L1816 2168.7 L1816.5 2167.5 L1818 2167.5 L1819.5 2176.1 L1823 2192.7 L1823.5 2193.3 L1824.5 2192.3 L1826.5 2192.3 L1831.5 2197.5 L1832 2197.6 L1866 2197.6" stroke="#00b050" stroke-width="5.4"/>
</g>
<g id="labels">
<text transform="translate(137.8 737.5) rotate(-90)" font-size="85.5" x="-7.0 40.8 85.5 124.4 174.4 205.6 250.9 298.8 345.0 385.5">absorbance</text>
<text transform="translate(147.8 1469.0) rotate(-90)" font-size="85.5" x="-4.6 22.9 71.1 89.3 138.7 167.3 189.4 229.8 277.3 293.0 315.0 366.1 392.3 441.1 485.1 523.9 547.4 575.9">relative intensity</text>
<text transform="translate(142.6 2250.2) rotate(-90)" font-size="85.5" x="-4.6 22.9 71.1 89.3 138.7 167.3 189.4 229.8 277.3 293.0 315.0 366.1 392.3 441.1 485.1 523.9 547.4 575.9">relative intensity</text>
<text y="2485" font-size="100.5" x="634.1 704.3 756.6 807.6 865.7 921.5 977.4 1067.2 1121.5 1181.2 1204.8 1232.7 1256.3 1307.8">wavenumber, cm<tspan font-size="62" y="2452" x="1393.1 1429.9">−1</tspan></text>
<text transform="translate(329.5 176) scale(0.93 1)" font-size="102" font-weight="bold">A</text>
<text transform="translate(332 1025.7) scale(0.83 1)" font-size="100" font-weight="bold">B</text>
<text transform="translate(330 1672) scale(0.81 1)" font-size="100" font-weight="bold">C</text>
<text transform="translate(278 2302) scale(1.035 1)" font-size="56.5" text-anchor="middle">0</text>
<text transform="translate(519.5 2302) scale(1.035 1)" font-size="56.5" text-anchor="middle">500</text>
<text transform="translate(758.7 2302) scale(1.035 1)" font-size="56.5" text-anchor="middle">1000</text>
<text transform="translate(1000 2302) scale(1.035 1)" font-size="56.5" text-anchor="middle">1500</text>
<text transform="translate(1240 2302) scale(1.035 1)" font-size="56.5" text-anchor="middle">2000</text>
<text transform="translate(1480 2302) scale(1.035 1)" font-size="56.5" text-anchor="middle">2500</text>
<text transform="translate(1721 2302) scale(1.035 1)" font-size="56.5" text-anchor="middle">3000</text>
</g>
</svg>
</body></html>
